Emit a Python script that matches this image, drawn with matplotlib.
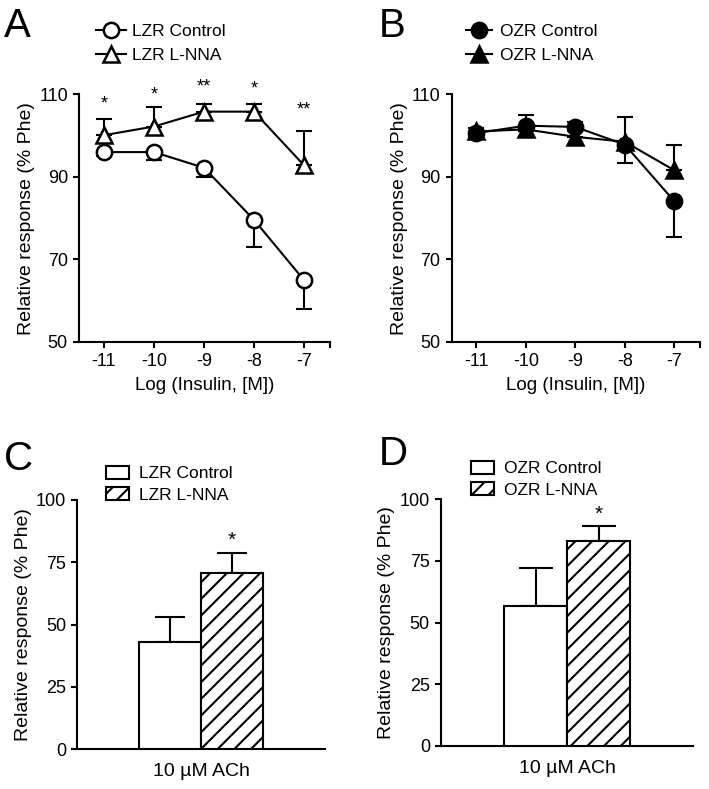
import matplotlib
matplotlib.use('Agg')
import matplotlib.pyplot as plt
from matplotlib.lines import Line2D
from matplotlib.patches import Patch

plt.rcParams['font.family'] = ['Liberation Sans', 'DejaVu Sans']
plt.rcParams['hatch.linewidth'] = 1.5

# ---------------- data ----------------
log_ins = [-11, -10, -9, -8, -7]
xtick_labels = ['-11', '-10', '-9', '-8', '-7']

lzr_ctrl = [96.0, 96.0, 92.2, 79.6, 65.0]
lzr_ctrl_err = [1.0, 1.8, 2.3, 6.7, 6.9]
lzr_lnna = [100.1, 102.2, 105.8, 105.8, 92.8]
lzr_lnna_err = [4.0, 4.8, 1.9, 1.9, 8.4]
lzr_sig = ['*', '*', '**', '*', '**']
lzr_sig_y = [107.6, 109.8, 111.8, 111.3, 106.2]

ozr_ctrl = [100.6, 102.4, 102.1, 97.8, 84.1]
ozr_ctrl_err = [1.0, 1.2, 1.0, 4.4, 8.7]
ozr_lnna = [101.0, 101.5, 99.7, 98.5, 91.6]
ozr_lnna_err = [0.8, 3.5, 3.5, 6.0, 6.1]

ach_label = '10 µM ACh'
bar_c_vals = [43.2, 70.6]
bar_c_err = [9.8, 8.3]
bar_c_sig_y = 84
bar_d_vals = [56.8, 83.2]
bar_d_err = [15.2, 6.0]
bar_d_sig_y = 94

W, H = 709, 789
fig = plt.figure(figsize=(W / 100, H / 100), dpi=100)


def ax_at(left, top, right, bottom):
    return fig.add_axes([left / W, 1 - bottom / H, (right - left) / W, (bottom - top) / H])


LW = 1.5
TICK_FS = 13
XLAB_FS = 13.5
YLAB_FS = 14
LEG_FS = 12.5


def style(ax):
    for s in ['top', 'right']:
        ax.spines[s].set_visible(False)
    for s in ['left', 'bottom']:
        ax.spines[s].set_linewidth(LW)
    ax.tick_params(width=LW, length=4, labelsize=TICK_FS, direction='out', pad=4)


def line_panel(ax, ctrl, ctrl_err, lnna, lnna_err, filled, ylabel):
    style(ax)
    fc = 'black' if filled else 'white'
    ax.errorbar(log_ins, ctrl, yerr=[ctrl_err, [0] * 5], fmt='none', ecolor='k',
                elinewidth=LW, capsize=5.5, capthick=LW, zorder=2)
    ax.errorbar(log_ins, lnna, yerr=[[0] * 5, lnna_err], fmt='none', ecolor='k',
                elinewidth=LW, capsize=5.5, capthick=LW, zorder=2)
    ax.plot(log_ins, ctrl, '-', color='k', lw=1.5, marker='o', ms=11, mfc=fc,
            mec='k', mew=1.8, zorder=4, clip_on=False)
    ax.plot(log_ins, lnna, '-', color='k', lw=1.5, marker='^', ms=12, mfc=fc,
            mec='k', mew=1.8, zorder=3, clip_on=False)
    ax.set_xlim(-11.5, -6.48)
    ax.set_ylim(50, 110)
    ax.set_xticks(log_ins)
    ax.set_xticklabels(xtick_labels)
    ax.set_xticks([-6.48], minor=True)
    ax.tick_params(axis='x', which='minor', width=LW, length=4)
    ax.set_yticks([50, 70, 90, 110])
    ax.set_xlabel('Log (Insulin, [M])', fontsize=XLAB_FS, labelpad=5)
    ax.set_ylabel(ylabel, fontsize=YLAB_FS, labelpad=3)


# Panel A
axA = ax_at(79, 94.3, 330, 342)
line_panel(axA, lzr_ctrl, lzr_ctrl_err, lzr_lnna, lzr_lnna_err, False,
           'Relative response (% Phe)')
for x, s, y in zip(log_ins, lzr_sig, lzr_sig_y):
    axA.text(x, y, s, ha='center', va='center', fontsize=13, clip_on=False)

# Panel B
axB = ax_at(451.7, 94.3, 700, 342)
line_panel(axB, ozr_ctrl, ozr_ctrl_err, ozr_lnna, ozr_lnna_err, True,
           'Relative response (% Phe)')

# legends for line panels
legA = [Line2D([], [], color='k', lw=1.5, marker='o', ms=11, mfc='white', mec='k', mew=1.8),
        Line2D([], [], color='k', lw=1.5, marker='^', ms=12, mfc='white', mec='k', mew=1.8)]
fig.legend(legA, ['LZR Control', 'LZR L-NNA'], loc='upper left',
           bbox_to_anchor=(96 / W, 1 - 24 / H), frameon=False, fontsize=LEG_FS,
           handlelength=1.7, handletextpad=0.35, labelspacing=0.5, borderpad=0,
           borderaxespad=0)
legB = [Line2D([], [], color='k', lw=1.5, marker='o', ms=11, mfc='black', mec='k', mew=1.8),
        Line2D([], [], color='k', lw=1.5, marker='^', ms=12, mfc='black', mec='k', mew=1.8)]
fig.legend(legB, ['OZR Control', 'OZR L-NNA'], loc='upper left',
           bbox_to_anchor=(466 / W, 1 - 24 / H), frameon=False, fontsize=LEG_FS,
           handlelength=1.5, handletextpad=0.45, labelspacing=0.5, borderpad=0,
           borderaxespad=0)


def bar_panel(ax, vals, errs, sig_y, labels, leg_anchor, cap):
    style(ax)
    xs = [1.5, 2.5]
    hatches = ['', '//']
    for x, v, e, h in zip(xs, vals, errs, hatches):
        ax.bar(x, v, width=1.0, facecolor='white', edgecolor='k', linewidth=LW,
               hatch=h, zorder=3)
        ax.errorbar(x, v, yerr=[[0], [e]], fmt='none', ecolor='k', elinewidth=LW,
                    capsize=cap, capthick=LW, zorder=2)
    ax.text(xs[1], sig_y, '*', ha='center', va='center', fontsize=15)
    ax.set_xlim(0, 4)
    ax.set_ylim(0, 100)
    ax.set_yticks([0, 25, 50, 75, 100])
    ax.set_xticks([])
    ax.set_xlabel(ach_label, fontsize=14, labelpad=10)
    ax.set_ylabel('Relative response (% Phe)', fontsize=YLAB_FS, labelpad=3)
    handles = [Patch(facecolor='white', edgecolor='k', linewidth=LW),
               Patch(facecolor='white', edgecolor='k', linewidth=LW, hatch='//')]
    fig.legend(handles, labels, loc='upper left', bbox_to_anchor=leg_anchor,
               frameon=False, fontsize=LEG_FS, handlelength=1.3, handleheight=0.75,
               handletextpad=0.6, labelspacing=0.35, borderpad=0, borderaxespad=0)


axC = ax_at(77.3, 500, 325, 749.3)
bar_panel(axC, bar_c_vals, bar_c_err, bar_c_sig_y, ['LZR Control', 'LZR L-NNA'],
          (106 / W, 1 - 466 / H), 11)

axD = ax_at(441, 499.3, 693.3, 745.7)
bar_panel(axD, bar_d_vals, bar_d_err, bar_d_sig_y, ['OZR Control', 'OZR L-NNA'],
          (471 / W, 1 - 461 / H), 12)

# panel letters
for s, x, y in [('A', 4, 37), ('B', 379, 37), ('C', 4, 470), ('D', 379, 465)]:
    fig.text(x / W, 1 - y / H, s, fontsize=29, ha='left', va='baseline')

fig.savefig('out.png', dpi=100)
